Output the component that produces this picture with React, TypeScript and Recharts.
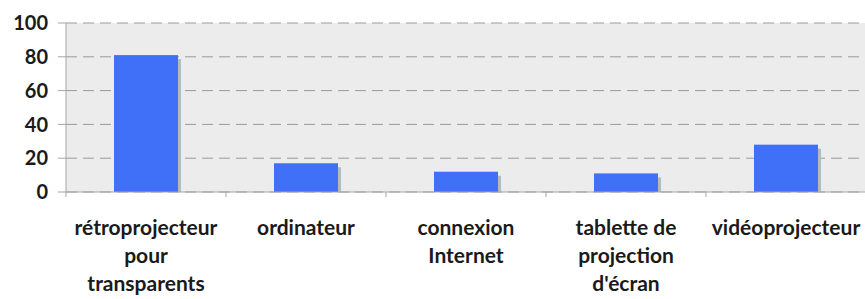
import React from "react";
import { Bar, BarChart, CartesianGrid, XAxis, YAxis } from "recharts";

const categories = [
  "rétroprojecteur\npour\ntransparents",
  "ordinateur",
  "connexion\nInternet",
  "tablette de\nprojection\nd'écran",
  "vidéoprojecteur",
];
const values = [81, 17, 12, 11, 28];
const yTicks = [0, 20, 40, 60, 80, 100];

const data = categories.map((name, i) => ({ name, value: values[i] }));

const ShadowBar = (props: any) => {
  const { x, y, width, height, fill } = props;
  if (!height || height <= 0) return null;
  return (
    <g>
      <rect x={x + 3} y={y + 4} width={width} height={height - 4} fill="#b9b9bd" />
      <rect x={x} y={y} width={width} height={height} fill={fill} />
    </g>
  );
};

const CategoryTick = (props: any) => {
  const { x, y, payload, index } = props;
  const half = payload.offset || 80;
  const lines = String(payload.value).split("\n");
  return (
    <g>
      <line x1={x - half} y1={y} x2={x - half} y2={y + 5} stroke="#a5a5a5" />
      {index === categories.length - 1 && (
        <line x1={x + half} y1={y} x2={x + half} y2={y + 5} stroke="#a5a5a5" />
      )}
      <text
        x={x}
        y={y}
        textAnchor="middle"
        fontFamily="Lato, sans-serif"
        fontWeight={700}
        fontSize={21}
        fill="#1a1a1a"
      >
        {lines.map((l, i) => (
          <tspan key={i} x={x} dy={i === 0 ? 43 : 28}>
            {l}
          </tspan>
        ))}
      </text>
    </g>
  );
};

const App: React.FC = () => {
  return (
    <div style={{ position: "absolute", left: 0, top: 0, width: 865, height: 299, background: "#fff" }}>
      <BarChart
        width={866}
        height={299}
        data={data}
        margin={{ top: 23, right: 0, left: 0, bottom: 0 }}
        barCategoryGap="30%"
      >
        <CartesianGrid
          vertical={false}
          fill="#ececec"
          stroke="#9a9a9a"
          strokeDasharray="11 6"
        />
        <XAxis
          dataKey="name"
          height={107}
          interval={0}
          tickSize={0}
          tickMargin={0}
          tickLine={false}
          axisLine={{ stroke: "#a5a5a5" }}
          tick={<CategoryTick />}
        />
        <YAxis
          width={66}
          domain={[0, 100]}
          ticks={yTicks}
          interval={0}
          tickSize={8}
          tickMargin={10}
          tickLine={{ stroke: "#a5a5a5" }}
          axisLine={{ stroke: "#a5a5a5" }}
          tick={{ fontFamily: "Lato, sans-serif", fontWeight: 700, fontSize: 20, fill: "#1a1a1a" }}
        />
        <Bar
          dataKey="value"
          fill="#3f70f7"
          barSize={64}
          shape={<ShadowBar />}
          isAnimationActive={false}
        />
      </BarChart>
    </div>
  );
};

export default App;
